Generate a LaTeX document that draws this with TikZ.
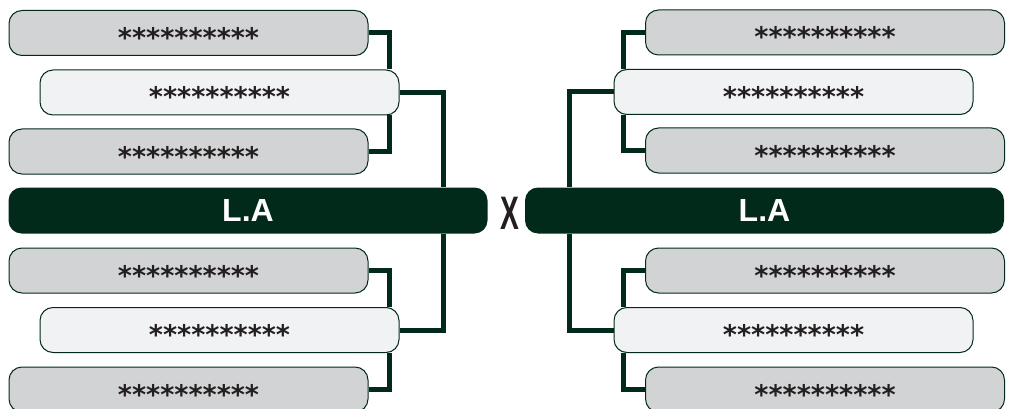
\documentclass[tikz,border=0pt]{standalone}
\usepackage{fontspec}
\setmainfont{Liberation Sans}
\newfontfamily\starfont{DejaVu Sans Bold}
\usepackage{tikz}
\usetikzlibrary{calc}
\definecolor{bracketgreen}{RGB}{2,42,26}
\definecolor{slotgray}{RGB}{209,211,212}
\definecolor{slotlight}{RGB}{241,242,243}
\definecolor{inkgray}{RGB}{35,31,32}
\newcommand{\slottext}[1]{\raisebox{-14.5pt}[0pt][0pt]{#1}}

\begin{document}
\begin{tikzpicture}[x=1pt,y=-1pt,
  slot/.style={draw=bracketgreen,line width=1pt,rounded corners=13pt,minimum width=359pt,minimum height=45pt,inner sep=0pt,
    text=inkgray,font=\starfont\fontsize{27}{27}\selectfont},
  slotout/.style={slot,fill=slotgray},
  slotin/.style={slot,fill=slotlight},
  team/.style={fill=bracketgreen,rounded corners=13pt,minimum width=479pt,minimum height=46pt,inner sep=0pt,
    text=white,font=\bfseries\fontsize{32}{32}\selectfont},
  link/.style={draw=bracketgreen,line width=5pt}]
\useasboundingbox (0,0) rectangle (1014,409);
\clip (0,0) rectangle (1014,409);

% left bracket
\node[slotout] (lt1) at (188.5,33) {\slottext{**********}};
\node[slotin]  (lt2) at (219.5,92.5) {\slottext{**********}};
\node[slotout] (lt3) at (188.5,151.5) {\slottext{**********}};
\node[team]    (tl)  at (248,210.5) {L.A};
\node[slotout] (lb1) at (188.5,270.5) {\slottext{**********}};
\node[slotin]  (lb2) at (219.5,330) {\slottext{**********}};
\node[slotout] (lb3) at (188.5,389.5) {\slottext{**********}};

% right bracket
\node[slotout] (rt1) at (825,32.5) {\slottext{**********}};
\node[slotin]  (rt2) at (793.5,92) {\slottext{**********}};
\node[slotout] (rt3) at (825,150.5) {\slottext{**********}};
\node[team]    (tr)  at (764.5,210.5) {L.A};
\node[slotout] (rb1) at (825,270.5) {\slottext{**********}};
\node[slotin]  (rb2) at (793.5,330) {\slottext{**********}};
\node[slotout] (rb3) at (825,389.5) {\slottext{**********}};

\node[text=inkgray,font=\bfseries\fontsize{47}{47}\selectfont] (vs) at (510,213.5) {\scalebox{0.6}[1]{X}};

\draw[link] (lt1.east) -| ([xshift=-10pt]lt2.north east);
\draw[link] (lt3.east) -| ([xshift=-10pt]lt2.south east);
\draw[link] (lt2.east) -| ([xshift=-44pt]tl.north east);
\draw[link] (lb1.east) -| ([xshift=-10pt]lb2.north east);
\draw[link] (lb3.east) -| ([xshift=-10pt]lb2.south east);
\draw[link] (lb2.east) -| ([xshift=-44pt]tl.south east);

\draw[link] (rt1.west) -| ([xshift=10pt]rt2.north west);
\draw[link] (rt3.west) -| ([xshift=10pt]rt2.south west);
\draw[link] (rt2.west) -| ([xshift=45pt]tr.north west);
\draw[link] (rb1.west) -| ([xshift=10pt]rb2.north west);
\draw[link] (rb3.west) -| ([xshift=10pt]rb2.south west);
\draw[link] (rb2.west) -| ([xshift=45pt]tr.south west);
\end{tikzpicture}
\end{document}
